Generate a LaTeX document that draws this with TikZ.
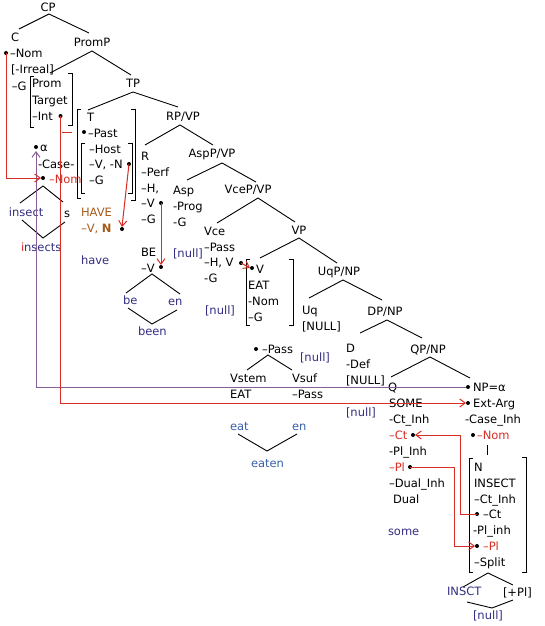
\documentclass[tikz,border=0pt]{standalone}
\usepackage{fontspec}
\setmainfont{DejaVu Sans}
\usetikzlibrary{arrows.meta}
\definecolor{myred}{RGB}{215,45,35}
\definecolor{mypurple}{RGB}{135,95,150}
\definecolor{navy}{RGB}{50,45,130}
\definecolor{lblue}{RGB}{55,95,170}
\definecolor{hbrown}{RGB}{165,90,25}
\begin{document}
\begin{tikzpicture}[x=1pt,y=-1pt,
  every node/.style={inner sep=0pt,outer sep=0pt,font=\fontsize{11.5}{14}\selectfont},
  L/.style={anchor=base west},
  Cn/.style={anchor=base},
  tl/.style={line width=0.9pt,black},
  brk/.style={line width=0.9pt,black},
  dot/.style={circle,fill=black,minimum size=4pt,inner sep=0pt},
  rarr/.style={line width=1pt,myred,-{Straight Barb[length=5.5pt,width=8pt]}},
  rline/.style={line width=1pt,myred},
  parr/.style={line width=1pt,mypurple,-{Straight Barb[length=5.5pt,width=8pt]}},
  nv/.style={text=navy},
  lb/.style={text=lblue},
  rd/.style={text=myred},
  hb/.style={text=hbrown}]
\useasboundingbox (0,0) rectangle (544,626);

% ---------- CP ----------
\node[Cn] (CP) at (48,12) {CP};
\draw[tl] (19,29) -- (49,14) -- (89,33);
\node[L] (C) at (11,42) {C};
\node[dot] (dCNom) at (6,53) {};
\node[L] (CNom) at (10,57) {–Nom};
\node[L] (CIrr) at (11,74) {[-Irreal]};
\node[L] (CG) at (12,90) {–G};

% ---------- PromP ----------
\node[Cn] (PromP) at (92,47) {PromP};
\draw[tl] (50,73) -- (92,51) -- (131,75);
\draw[brk] (34,76) -- (30,76) -- (30,127) -- (34,127);
\draw[brk] (68,73) -- (72,73) -- (72,125) -- (68,125);
\node[L] (Prom) at (32,88) {Prom};
\node[L] (Targ) at (32,104) {Target};
\node[L] (Int) at (32,120) {–Int};
\node[dot] (dInt) at (60.5,116) {};

% ---------- TP ----------
\node[Cn] (TP) at (133,87) {TP};
\draw[tl] (88,110) -- (133,92) -- (178,107);
\draw[brk] (81,109) -- (77,109) -- (77,198) -- (81,198);
\draw[brk] (131,109) -- (135,109) -- (135,200) -- (131,200);
\draw[brk] (85,143) -- (81,143) -- (81,193) -- (85,193);
\draw[brk] (128,143) -- (132,143) -- (132,193) -- (128,193);
\node[L] (T) at (87,121) {T};
\node[dot] (dPast) at (84,132) {};
\node[L] (Past) at (88,137) {–Past};
\node[L] (Host) at (89,153) {–Host};
\node[L] (VN) at (89,168) {–V, -N};
\node[dot] (dVN) at (129,164) {};
\node[L] (TG) at (89,184) {–G};
\draw[rline] (62,132) -- (72,132);

% ---------- insects ----------
\node[dot] (dAl) at (36,147) {};
\node[L] (Al) at (40,151) {α};
\node[L] (Case) at (38,168) {-Case-};
\node[dot] (dINom) at (43,178) {};
\node[L,rd] (INom) at (49,183) {–Nom};
\draw[tl] (20,203) -- (43,186) -- (63,202);
\draw[tl] (22,220) -- (43,238) -- (65,222);
\node[L,nv] (insect) at (9,216) {insect};
\node[L] (s) at (64,217) {s};
\node[L,nv] (insects) at (21,251) {{\color{myred}i}nsects};

% ---------- HAVE ----------
\node[L,hb] (HAVE) at (81,216) {HAVE};
\node[L,hb] (HVN) at (81,232) {–V, \textbf{N}};
\node[dot] (dHave) at (122,229) {};
\node[L,nv] (have) at (81,264) {have};

% ---------- RP/VP ----------
\node[Cn] (RPVP) at (183,120) {RP/VP};
\draw[tl] (145,145) -- (180,125) -- (213,145);
\node[L] (R) at (141,160) {R};
\node[L] (Perf) at (141,176) {–Perf};
\node[L] (RH) at (141,192) {–H,};
\node[L] (RV) at (141,207) {–V};
\node[dot] (dRV) at (161,203) {};
\node[L] (RG) at (141,223) {–G};
\node[L] (BE) at (141,256) {BE};
\node[L] (BEV) at (141,272) {–V};
\node[dot] (dBE) at (161,267) {};
\node[L,nv] (null1) at (173,257) {[null]};
\draw[tl] (126,293) -- (152,274) -- (180,294);
\draw[tl] (128,308) -- (152,324) -- (177,310);
\node[L,nv] (be) at (123,304) {be};
\node[L,nv] (en1) at (168,305) {en};
\node[L,nv] (been) at (138,335) {been};

% ---------- AspP/VP ----------
\node[Cn] (AspP) at (212,157) {AspP/VP};
\draw[tl] (187,180) -- (222,163) -- (256,182);
\node[L] (Asp) at (173,194) {Asp};
\node[L] (Prog) at (173,210) {-Prog};
\node[L] (AG) at (173,226) {-G};

% ---------- VceP/VP ----------
\node[Cn] (VceP) at (248,193) {VceP/VP};
\draw[tl] (217,223) -- (258,198) -- (295,222);
\node[L] (Vce) at (204,235) {Vce};
\node[L] (VPass) at (204,251) {–Pass};
\node[L] (VHV) at (204,266) {–H, V};
\node[dot] (dVce) at (241,263) {};
\node[L] (VG) at (204,282) {-G};
\node[L,nv] (null2) at (205,314) {[null]};

% ---------- VP ----------
\node[Cn] (VP) at (299,234) {VP};
\draw[tl] (260,258) -- (299,238) -- (337,263);
\draw[brk] (250,259) -- (246,259) -- (246,325) -- (250,325);
\draw[brk] (289,259) -- (293,259) -- (293,325) -- (289,325);
\node[dot] (dV) at (252,268) {};
\node[L] (V) at (256,273) {V};
\node[L] (EAT1) at (248,289) {EAT};
\node[L] (VNom) at (248,305) {-Nom};
\node[L] (VG2) at (248,321) {–G};

% ---------- UqP ----------
\node[Cn] (UqP) at (339,275) {UqP/NP};
\draw[tl] (309,298) -- (343,280) -- (382,300);
\node[L] (Uq) at (302,314) {Uq};
\node[L] (UNULL) at (302,330) {[NULL]};

% ---------- Pass ----------
\node[dot] (dPass) at (256,349) {};
\node[L] (Pass) at (262,353) {–Pass};
\node[L,nv] (null3) at (300,361) {[null]};
\draw[tl] (247,370) -- (268,355) -- (292,370);
\node[L] (Vstem) at (230,382) {Vstem};
\node[L] (Vsuf) at (292,382) {Vsuf};
\node[L] (EAT2) at (230,398) {EAT};
\node[L] (SPass) at (292,398) {–Pass};
\node[L,lb] (eat) at (230,430) {eat};
\node[L,lb] (en2) at (292,430) {en};
\draw[tl] (238,434) -- (267,451) -- (297,434);
\node[L,lb] (eaten) at (251,467) {eaten};

% ---------- DP ----------
\node[Cn] (DP) at (385,315) {DP/NP};
\draw[tl] (360,333) -- (387,320) -- (422,338);
\node[L] (D) at (346,352) {D};
\node[L] (Def) at (346,368) {-Def};
\node[L] (DNULL) at (346,384) {[NULL]};
\node[L,nv] (null4) at (346,416) {[null]};

% ---------- QP ----------
\node[Cn] (QP) at (428,353) {QP/NP};
\draw[tl] (391,377) -- (430,357) -- (470,378);
\node[L] (Q) at (388,391) {Q};
\node[L] (SOME) at (389,407) {SOME};
\node[L] (QCtI) at (389,423) {-Ct\_Inh};
\node[L,rd] (QCt) at (389,439) {–Ct};
\node[dot] (dQCt) at (413,435) {};
\node[L] (QPlI) at (389,455) {-Pl\_Inh};
\node[L,rd] (QPl) at (389,471) {–Pl};
\node[dot] (dQPl) at (410,467) {};
\node[L] (QDI) at (389,487) {–Dual\_Inh};
\node[L] (Dual) at (393,503) {Dual};
\node[L,nv] (some) at (388,535) {some};

% ---------- NP ----------
\node[dot] (dNP) at (468,387) {};
\node[L] (NPa) at (473,391) {NP=α};
\node[dot] (dExt) at (468,403) {};
\node[L] (Ext) at (473,407) {Ext-Arg};
\node[L] (CaseI) at (465,423) {-Case\_Inh};
\node[dot] (dNNom) at (473,435) {};
\node[L,rd] (NNom) at (477,439) {–Nom};
\draw[tl] (487,445) -- (487,455);
\draw[brk] (473,458) -- (469,458) -- (469,572) -- (473,572);
\draw[brk] (522,457) -- (526,457) -- (526,572) -- (522,572);
\node[L] (N) at (474,471) {N};
\node[L] (INSECT) at (474,487) {INSECT};
\node[L] (NCtI) at (474,503) {–Ct\_Inh};
\node[dot] (dNCt) at (477,514) {};
\node[L] (NCt) at (483,518) {–Ct};
\node[L] (NPlI) at (473,534) {-Pl\_inh};
\node[dot] (dNPl) at (477,546) {};
\node[L,rd] (NPl) at (483,550) {–Pl};
\node[L] (Split) at (474,566) {–Split};
\draw[tl] (463,587) -- (488,573) -- (513,585);
\draw[tl] (467,602) -- (492,608) -- (513,600);
\node[L,nv] (INSCT) at (447,595) {INSCT};
\node[L] (Plus) at (503,596) {[+Pl]};
\node[L,nv] (null5) at (473,619) {[null]};

% ---------- movement arrows ----------
\coordinate (k1) at (460,514);
\coordinate (k2) at (454,467);
\draw[parr,shorten >=2pt] (dNP.west) -| (dAl.south);
\draw[rarr] (dCNom.center) |- (dINom.west);
\draw[rarr] (dInt.center) |- (dExt.west);
\draw[rarr] (dVN.center) -- (dHave.north);
\draw[rarr] (dRV.center) -- (dBE.north);
\draw[rarr] (dVce.center) -- (dV.west);
\draw[rarr] (dNCt.center) -- (k1) |- (dQCt.east);
\draw[rarr] (dQPl.center) -- (k2) |- (dNPl.west);
\end{tikzpicture}
\end{document}
